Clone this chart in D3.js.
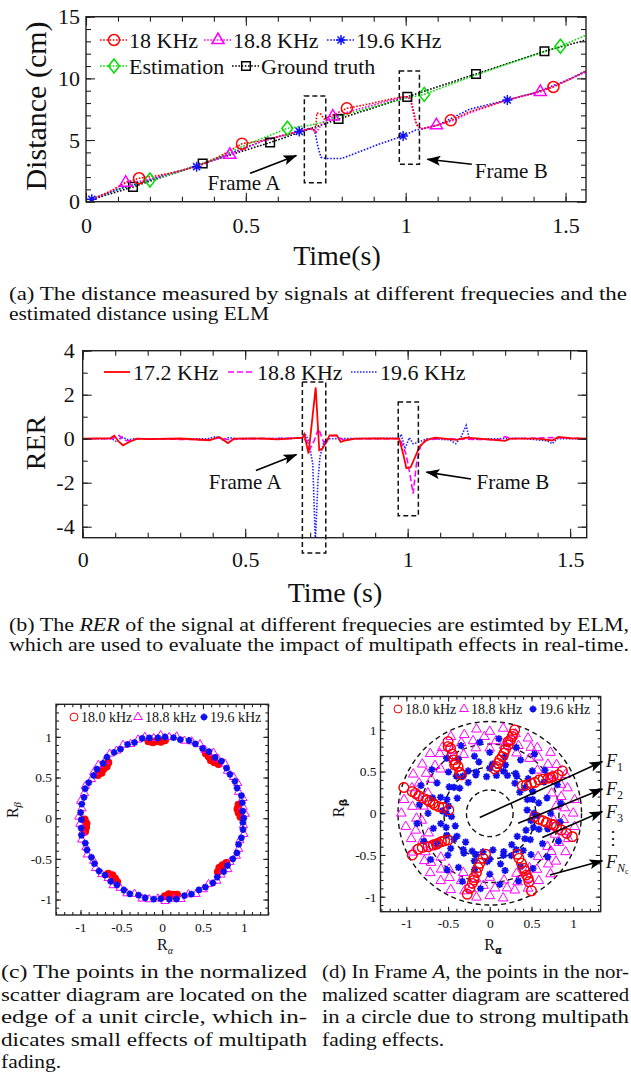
<!DOCTYPE html>
<html>
<head>
<meta charset="utf-8">
<script src="https://cdn.jsdelivr.net/npm/d3@7"></script>
<style>
body { margin: 0; background: #fff; }
</style>
</head>
<body>
<script>
// ---------- (a) distance measured at each frequency ----------
var dist18 = [[0.02,0.2],[0.08,0.9],[0.125,1.6],[0.166,1.9],[0.22,2.1],[0.28,2.4],[0.35,2.9],[0.42,3.7],[0.488,4.7],[0.55,4.95],[0.62,5.4],[0.68,5.8],[0.705,5.95],[0.718,5.7],[0.722,7.2],[0.735,7.1],[0.745,6.7],[0.77,7.0],[0.816,7.57],[0.88,7.9],[0.95,8.3],[1.0,8.55],[1.015,8.4],[1.025,7.3],[1.035,6.2],[1.05,5.9],[1.1,6.2],[1.141,6.6],[1.2,7.3],[1.25,7.7],[1.318,8.25],[1.4,8.8],[1.462,9.3],[1.52,10.0],[1.564,10.6]];
var dist188 = [[0.02,0.2],[0.09,1.0],[0.124,1.54],[0.18,1.7],[0.25,2.2],[0.35,2.9],[0.45,3.8],[0.55,4.9],[0.62,5.4],[0.68,5.8],[0.705,5.9],[0.72,5.6],[0.74,6.4],[0.772,6.9],[0.85,7.5],[0.95,8.2],[1.0,8.5],[1.015,8.3],[1.03,6.5],[1.045,5.9],[1.096,6.2],[1.15,6.6],[1.2,7.2],[1.318,8.25],[1.421,8.9],[1.5,9.8],[1.564,10.5]];
var dist196 = [[0.018,0.19],[0.1,1.0],[0.18,1.6],[0.25,2.2],[0.346,2.84],[0.45,3.9],[0.55,4.9],[0.667,5.7],[0.7,5.95],[0.715,5.8],[0.725,4.5],[0.735,3.6],[0.75,3.5],[0.8,3.5],[0.85,4.0],[0.92,4.7],[0.992,5.33],[1.03,5.8],[1.06,5.95],[1.1,6.2],[1.2,7.5],[1.318,8.25],[1.4,8.8],[1.5,9.8],[1.564,10.6]];
var distEst = [[0.02,0.25],[0.1,1.0],[0.2,1.76],[0.3,2.5],[0.4,3.4],[0.5,4.6],[0.63,5.95],[0.7,6.2],[0.75,6.5],[0.8,7.0],[0.9,7.7],[1.0,8.4],[1.058,8.7],[1.2,10.1],[1.3,11.0],[1.484,12.6],[1.564,13.5]];
var distTruth = [[0.02,0.2],[0.147,1.2],[0.365,3.1],[0.576,4.8],[0.79,6.7],[1.005,8.5],[1.22,10.36],[1.434,12.2],[1.564,13.1]];
var marks18 = [[0.166,1.9],[0.488,4.7],[0.816,7.57],[1.141,6.6],[1.462,9.3]];
var marks188 = [[0.124,1.54],[0.45,3.8],[0.772,6.9],[1.096,6.2],[1.421,8.9]];
var marks196 = [[0.018,0.19],[0.346,2.84],[0.667,5.7],[0.992,5.33],[1.318,8.25]];
var marksEst = [[0.2,1.76],[0.63,5.95],[1.058,8.7],[1.484,12.6]];
var marksTruth = [[0.147,1.2],[0.365,3.1],[0.576,4.8],[0.79,6.7],[1.005,8.5],[1.22,10.36],[1.434,12.2]];
var aTicksX = [0, 0.5, 1, 1.5];
var aTicksY = [0, 5, 10, 15];

// ---------- (b) RER ----------
var rer172 = [[0,0],[0.085,0.02],[0.097,0.14],[0.112,-0.15],[0.124,-0.3],[0.143,-0.15],[0.167,0],[0.2,-0.02],[0.3,0.01],[0.39,-0.07],[0.42,0.08],[0.447,-0.2],[0.465,0],[0.55,0.01],[0.6,-0.03],[0.676,0.05],[0.682,0.2],[0.695,-0.68],[0.717,2.33],[0.728,-0.53],[0.738,-0.45],[0.76,0.15],[0.782,0.15],[0.794,-0.15],[0.81,-0.07],[0.84,0],[0.9,0.01],[0.974,0],[0.986,-0.68],[0.996,-1.34],[1.009,-1.3],[1.021,-0.9],[1.036,-0.38],[1.055,-0.08],[1.073,0],[1.085,0.05],[1.15,-0.05],[1.18,0.05],[1.22,0],[1.3,-0.1],[1.315,0],[1.4,0],[1.445,-0.08],[1.464,0.08],[1.5,0.02],[1.551,0]];
var rer188 = [[0,0],[0.09,0],[0.112,0.15],[0.125,-0.05],[0.14,-0.1],[0.17,0],[0.39,-0.05],[0.42,0.05],[0.45,-0.05],[0.5,0],[0.676,0.02],[0.69,-0.1],[0.7,-0.45],[0.712,-0.1],[0.726,0.46],[0.735,0.1],[0.745,-0.3],[0.76,0.1],[0.78,0.15],[0.8,-0.05],[0.85,0],[0.975,0],[0.985,-0.3],[0.995,-0.7],[1.005,-1.45],[1.017,-2.5],[1.027,-1.14],[1.04,-0.3],[1.06,-0.05],[1.1,0],[1.28,-0.05],[1.3,0.1],[1.32,0],[1.45,0.05],[1.551,0]];
var rer196 = [[0,0],[0.09,0],[0.105,-0.15],[0.12,0.08],[0.14,-0.05],[0.16,0],[0.385,0],[0.41,0.1],[0.43,-0.05],[0.45,0.05],[0.47,0],[0.676,0.02],[0.684,0.23],[0.695,-0.08],[0.708,-1.14],[0.716,-4.7],[0.724,-1.9],[0.73,-0.84],[0.742,-0.15],[0.76,0],[0.975,0.02],[0.98,0.2],[0.992,-0.46],[1.005,0.05],[1.017,-0.23],[1.035,-0.15],[1.06,0],[1.13,-0.05],[1.148,-0.23],[1.165,0.1],[1.18,0.6],[1.19,0],[1.2,-0.02],[1.35,0.02],[1.43,-0.1],[1.445,-0.23],[1.46,0],[1.551,0]];
var bTicksX = [0, 0.5, 1, 1.5];
var bTicksY = [-4, -2, 0, 2, 4];

// ---------- (c) scatter, no multipath: [angle deg, radius] ----------
var cStar = [[0,1.0],[5,0.99],[11,1.0],[16,1.01],[22,0.99],[27,1.0],[33,0.99],[38,1.0],[44,1.01],[49,0.99],[55,1.0],[60,0.99],[66,1.0],[71,1.01],[77,0.99],[82,1.0],[88,1.0],[93,0.99],[99,1.0],[104,1.01],[110,0.99],[115,1.0],[121,0.99],[126,1.0],[132,1.01],[137,0.99],[143,1.0],[148,0.99],[154,1.0],[159,1.01],[165,0.99],[170,1.0],[176,1.0],[181,0.99],[187,1.0],[192,1.01],[198,0.99],[203,1.0],[209,0.99],[214,1.0],[220,1.01],[225,0.99],[231,1.0],[236,0.99],[242,1.0],[247,1.01],[253,0.99],[258,1.0],[264,1.0],[269,0.99],[275,1.0],[280,1.01],[286,0.99],[291,1.0],[297,0.99],[302,1.0],[308,1.01],[313,0.99],[319,1.0],[324,0.99],[330,1.0],[335,1.01],[341,0.99],[346,1.0],[352,1.0],[357,0.99]];
var cTri = [[3,1.02],[8,1.0],[14,1.02],[19,0.99],[25,1.02],[30,1.01],[36,0.99],[41,1.02],[47,1.0],[52,1.02],[58,0.99],[63,1.02],[69,1.01],[74,0.99],[80,1.02],[85,1.0],[91,1.02],[96,0.99],[102,1.02],[107,1.01],[113,0.99],[118,1.02],[124,1.0],[129,1.02],[135,0.99],[140,1.02],[146,1.01],[151,0.99],[157,1.02],[162,1.0],[168,1.02],[173,0.99],[179,1.02],[184,1.01],[190,0.99],[195,1.02],[201,1.0],[206,1.02],[212,0.99],[217,1.02],[223,1.01],[228,0.99],[234,1.02],[239,1.0],[245,1.02],[250,0.99],[256,1.02],[261,1.01],[267,0.99],[272,1.02],[278,1.0],[283,1.02],[289,0.99],[294,1.02],[300,1.01],[305,0.99],[311,1.02],[316,1.0],[322,1.02],[327,0.99],[333,1.02],[338,1.01],[344,0.99],[349,1.02],[355,1.0]];
var cCirc = [[88,0.96],[91,0.94],[94,0.95],[97,0.94],[100,0.96],[134,0.95],[137,0.93],[140,0.94],[143,0.93],[146,0.95],[181,0.95],[184,0.93],[187,0.94],[190,0.96],[226,0.95],[229,0.93],[232,0.94],[235,0.96],[272,0.96],[275,0.94],[278,0.95],[281,0.96],[316,0.95],[319,0.93],[322,0.94],[325,0.96],[1,0.96],[4,0.94],[7,0.93],[10,0.95],[44,0.96],[47,0.94],[50,0.93],[53,0.95],[56,0.96]];

// ---------- (d) scatter in Frame A ----------
var dTri = [[0,1.0],[9,1.03],[18,0.98],[27,1.02],[36,0.99],[45,1.03],[54,0.97],[63,1.01],[72,1.0],[81,1.03],[90,0.98],[99,1.02],[108,0.99],[117,1.03],[126,0.97],[135,1.01],[144,1.0],[153,1.03],[162,0.98],[171,1.04],[180,1.06],[189,1.02],[198,0.99],[207,1.03],[216,0.97],[225,1.01],[234,1.0],[243,1.03],[252,0.98],[261,1.02],[270,0.99],[279,1.03],[288,0.97],[297,1.01],[306,1.0],[315,1.03],[324,0.98],[333,1.02],[342,0.99],[351,1.03],
  [4,0.9],[13,0.88],[22,0.92],[31,0.87],[40,0.91],[49,0.89],[58,0.93],[67,0.88],[76,0.9],[85,0.87],[94,0.92],[103,0.89],[112,0.91],[121,0.88],[130,0.93],[139,0.87],[148,0.9],[157,0.92],[166,0.89],[175,0.93],[184,0.88],[193,0.91],[202,0.87],[211,0.9],[220,0.92],[229,0.89],[238,0.91],[247,0.88],[256,0.93],[265,0.87],[274,0.9],[283,0.92],[292,0.89],[301,0.91],[310,0.88],[319,0.93],[328,0.87],[337,0.9],[346,0.92],[355,0.89],
  [6,0.8],[18,0.78],[30,0.82],[42,0.77],[54,0.81],[66,0.79],[78,0.83],[90,0.78],[102,0.8],[114,0.77],[126,0.82],[138,0.79],[150,0.81],[162,0.78],[174,0.8],[186,0.82],[198,0.77],[210,0.81],[222,0.79],[234,0.83],[246,0.78],[258,0.8],[270,0.77],[282,0.82],[294,0.79],[306,0.81],[318,0.78],[330,0.8],[342,0.82],[354,0.77]];
var dStar = [[5,0.45],[20,0.48],[35,0.44],[50,0.47],[65,0.5],[80,0.46],[95,0.44],[110,0.49],[125,0.45],[140,0.47],[155,0.43],[170,0.5],[185,0.46],[200,0.44],[215,0.48],[230,0.45],[245,0.5],[260,0.47],[275,0.44],[290,0.49],[305,0.46],[320,0.43],[335,0.48],[350,0.5],
  [12,0.6],[27,0.58],[42,0.62],[57,0.57],[72,0.61],[87,0.59],[102,0.63],[117,0.57],[132,0.6],[147,0.58],[162,0.62],[177,0.57],[192,0.6],[207,0.58],[222,0.63],[237,0.57],[252,0.6],[267,0.58],[282,0.62],[297,0.57],[312,0.6],[327,0.58],[342,0.62],[357,0.57],
  [0,0.73],[15,0.71],[30,0.75],[45,0.72],[60,0.74],[75,0.7],[90,0.73],[105,0.71],[120,0.75],[135,0.7],[150,0.73],[165,0.71],[180,0.74],[195,0.7],[210,0.73],[225,0.71],[240,0.75],[255,0.7],[270,0.73],[285,0.71],[300,0.74],[315,0.7],[330,0.73],[345,0.72],
  [8,0.86],[23,0.88],[38,0.84],[53,0.89],[68,0.85],[83,0.9],[98,0.86],[113,0.88],[128,0.84],[143,0.87],[158,0.89],[173,0.85],[188,0.88],[203,0.86],[218,0.9],[233,0.85],[248,0.88],[263,0.91],[278,0.86],[293,0.88],[308,0.84],[323,0.87],[338,0.89],[353,0.85],
  [0,0.53],[18,0.54],[36,0.52],[54,0.55],[72,0.53],[90,0.54],[108,0.52],[126,0.55],[144,0.53],[162,0.54],[180,0.52],[198,0.55],[216,0.53],[234,0.54],[252,0.52],[270,0.55],[288,0.53],[306,0.54],[324,0.52],[342,0.55]];
// red circles as x,y
var dCirc = [[0.3,1.0],[0.27,0.92],[0.25,0.88],[0.22,0.82],[0.19,0.77],[0.17,0.72],[0.15,0.68],[0.12,0.64],[0.1,0.6],[0.08,0.56],[0.06,0.53],[0.22,0.86],[0.28,0.95],
  [-0.5,0.86],[-0.47,0.78],[-0.45,0.71],[-0.43,0.64],[-0.41,0.6],[-0.38,0.56],[-0.36,0.49],[-0.34,0.46],[-0.5,0.8],[-0.42,0.58],
  [-1.03,0.31],[-0.93,0.26],[-0.89,0.24],[-0.85,0.21],[-0.8,0.18],[-0.75,0.16],[-0.72,0.14],[-0.66,0.1],[-0.61,0.08],[-0.56,0.07],[-0.49,0.04],[-0.68,0.12],
  [-0.93,-0.5],[-0.86,-0.43],[-0.81,-0.41],[-0.74,-0.4],[-0.68,-0.38],[-0.62,-0.36],[-0.58,-0.34],[-0.54,-0.33],[-0.5,-0.32],[-0.64,-0.37],
  [-0.27,-0.97],[-0.24,-0.9],[-0.21,-0.84],[-0.19,-0.77],[-0.16,-0.71],[-0.14,-0.65],[-0.12,-0.6],[-0.08,-0.54],[-0.05,-0.49],[-0.19,-0.8],
  [0.5,-0.93],[0.47,-0.82],[0.44,-0.74],[0.41,-0.66],[0.38,-0.6],[0.35,-0.54],[0.33,-0.49],[0.46,-0.78],[0.42,-0.69],
  [0.99,-0.28],[0.92,-0.24],[0.86,-0.2],[0.8,-0.16],[0.74,-0.13],[0.68,-0.11],[0.64,-0.09],[0.59,-0.07],[0.54,-0.04],[0.77,-0.14],
  [0.87,0.51],[0.82,0.46],[0.76,0.44],[0.7,0.42],[0.64,0.41],[0.59,0.4],[0.54,0.37],[0.5,0.36],[0.44,0.34],[0.39,0.33],[0.73,0.43]];
var dRings = [0.28, 0.55, 0.83, 1.1];
var scatterTicks = [-1, -0.5, 0, 0.5, 1];

var FONT = '"Liberation Serif","Times New Roman",Times,serif';
var svg = d3.select("body").append("svg").attr("width", 631).attr("height", 1087);
var defs = svg.append("defs");
defs.append("marker").attr("id", "ah").attr("viewBox", "0 0 14 10").attr("refX", 13).attr("refY", 5)
  .attr("markerWidth", 15).attr("markerHeight", 10).attr("markerUnits", "userSpaceOnUse").attr("orient", "auto")
  .append("path").attr("d", "M0,0L14,5L0,10L3,5Z").attr("fill", "#000");

function styleAxis(sel, fs) {
  sel.select(".domain").remove();
  sel.selectAll("line").attr("stroke", "#222").attr("stroke-width", 1.1);
  sel.selectAll("text").attr("font-family", FONT).attr("font-size", fs).attr("fill", "#111");
}

// inward ticks on all four sides plus the frame
function frameAxes(x, y, o) {
  var g = svg.append("g");
  var l = x.range()[0], r = x.range()[1], b = y.range()[0], t = y.range()[1];
  function add(axis, tr, vals, len, lab, pad) {
    axis.tickValues(vals).tickSize(-len).tickPadding(pad || 0)
      .tickFormat(lab ? function(d) { return String(+d.toFixed(3)); } : function() { return ""; });
    g.append("g").attr("transform", tr).call(axis).call(styleAxis, o.fs);
  }
  add(d3.axisBottom(x), "translate(0," + b + ")", o.xMin, o.min, false);
  add(d3.axisBottom(x), "translate(0," + b + ")", o.xMaj, o.maj, true, o.padX);
  add(d3.axisTop(x), "translate(0," + t + ")", o.xMin, o.min, false);
  add(d3.axisTop(x), "translate(0," + t + ")", o.xMaj, o.maj, false);
  add(d3.axisLeft(y), "translate(" + l + ",0)", o.yMin, o.min, false);
  add(d3.axisLeft(y), "translate(" + l + ",0)", o.yMaj, o.maj, true, o.padY);
  add(d3.axisRight(y), "translate(" + r + ",0)", o.yMin, o.min, false);
  add(d3.axisRight(y), "translate(" + r + ",0)", o.yMaj, o.maj, false);
  g.append("rect").attr("x", l).attr("y", t).attr("width", r - l).attr("height", b - t)
    .attr("fill", "none").attr("stroke", "#222").attr("stroke-width", 1.4);
}

function clip(id, x, y) {
  defs.append("clipPath").attr("id", id).append("rect")
    .attr("x", x.range()[0]).attr("y", y.range()[1])
    .attr("width", x.range()[1] - x.range()[0]).attr("height", y.range()[0] - y.range()[1]);
}

function starPath(r) {
  var p = "";
  for (var k = 0; k < 4; k++) {
    var a = k * Math.PI / 4, c = Math.cos(a) * r, s = Math.sin(a) * r;
    p += "M" + (-c) + "," + (-s) + "L" + c + "," + s;
  }
  return p;
}
function triPath(r) { return "M0," + (-r) + "L" + (r * 0.87) + "," + (r * 0.5) + "L" + (-r * 0.87) + "," + (r * 0.5) + "Z"; }
function diaPath(r) { return "M0," + (-r) + "L" + (r * 0.78) + ",0L0," + r + "L" + (-r * 0.78) + ",0Z"; }
function sqPath(r) { return "M" + (-r) + "," + (-r) + "H" + r + "V" + r + "H" + (-r) + "Z"; }

function mark(g, shape, cx, cy, r, color, sw, fill) {
  if (shape === "circle") {
    return g.append("circle").attr("cx", cx).attr("cy", cy).attr("r", r)
      .attr("fill", fill || "none").attr("stroke", color).attr("stroke-width", sw);
  }
  var d = shape === "star" ? starPath(r) : shape === "tri" ? triPath(r) : shape === "dia" ? diaPath(r) : sqPath(r);
  return g.append("path").attr("d", d).attr("transform", "translate(" + cx + "," + cy + ")")
    .attr("fill", fill || "none").attr("stroke", color).attr("stroke-width", sw);
}

function txt(x, y, s, fs, anchor) {
  return svg.append("text").attr("x", x).attr("y", y).attr("font-family", FONT).attr("font-size", fs)
    .attr("fill", "#111").attr("text-anchor", anchor || "start").text(s);
}

function arrow(x1, y1, x2, y2) {
  svg.append("line").attr("x1", x1).attr("y1", y1).attr("x2", x2).attr("y2", y2)
    .attr("stroke", "#000").attr("stroke-width", 1.6).attr("marker-end", "url(#ah)");
}

function dashBox(x, y, t0, t1, v0, v1) {
  svg.append("rect").attr("x", x(t0)).attr("y", y(v1)).attr("width", x(t1) - x(t0)).attr("height", y(v0) - y(v1))
    .attr("fill", "none").attr("stroke", "#111").attr("stroke-width", 1.5).attr("stroke-dasharray", "5,3");
}

// ================= panel (a) =================
var xa = d3.scaleLinear().domain([0, 1.564]).range([86, 586]);
var ya = d3.scaleLinear().domain([0, 15]).range([201.7, 16.7]);
clip("clipA", xa, ya);
var lineA = d3.line().x(function(d) { return xa(d[0]); }).y(function(d) { return ya(d[1]); });
var seriesA = [
  { data: distTruth, marks: marksTruth, color: "#000", shape: "sq", r: 4.3 },
  { data: distEst, marks: marksEst, color: "#00dd00", shape: "dia", r: 7 },
  { data: dist196, marks: marks196, color: "#1010ff", shape: "star", r: 5 },
  { data: dist188, marks: marks188, color: "#ff00ff", shape: "tri", r: 7 },
  { data: dist18, marks: marks18, color: "#ff0000", shape: "circle", r: 5.5 }
];
var gA = svg.append("g").attr("clip-path", "url(#clipA)");
seriesA.forEach(function(s) {
  gA.append("path").datum(s.data).attr("d", lineA).attr("fill", "none")
    .attr("stroke", s.color).attr("stroke-width", 1.6).attr("stroke-dasharray", "1.6,1.6");
});
seriesA.forEach(function(s) {
  s.marks.forEach(function(m) { mark(gA, s.shape, xa(m[0]), ya(m[1]), s.r, s.color, 1.5); });
});
dashBox(xa, ya, 0.683, 0.75, 1.54, 8.57);
dashBox(xa, ya, 0.98, 1.043, 3.03, 10.6);
arrow(xa(0.513), ya(2.3), xa(0.658), ya(3.74));
arrow(xa(1.207), ya(3.03), xa(1.068), ya(3.44));
txt(xa(0.494), ya(1.49) + 7, "Frame A", 21, "middle");
txt(xa(1.33), ya(2.51) + 7, "Frame B", 21, "middle");
frameAxes(xa, ya, { xMaj: aTicksX, xMin: d3.range(0, 16).map(function(i) { return i / 10; }),
  yMaj: aTicksY, yMin: d3.range(0, 16), maj: 9, min: 5, fs: 22, padX: 16, padY: 6 });
txt(0, 0, "Distance (cm)", 30, "middle").attr("transform", "translate(46,106) rotate(-90)");
txt(337, 265, "Time(s)", 28, "middle");

var legA = [
  { x: 100, y: 40, label: "18 KHz", s: seriesA[4] },
  { x: 204, y: 40, label: "18.8 KHz", s: seriesA[3] },
  { x: 327, y: 40, label: "19.6 KHz", s: seriesA[2] },
  { x: 100, y: 66, label: "Estimation", s: seriesA[1] },
  { x: 232, y: 66, label: "Ground truth", s: seriesA[0] }
];
legA.forEach(function(e) {
  svg.append("line").attr("x1", e.x).attr("x2", e.x + 27).attr("y1", e.y).attr("y2", e.y)
    .attr("stroke", e.s.color).attr("stroke-width", 1.6).attr("stroke-dasharray", "1.6,1.6");
  mark(svg, e.s.shape, e.x + 14, e.y, e.s.r, e.s.color, 1.5);
  txt(e.x + 29, e.y + 8, e.label, 22);
});

// ================= panel (b) =================
var xb = d3.scaleLinear().domain([0, 1.551]).range([82.7, 586.7]);
var yb = d3.scaleLinear().domain([-4.5, 4]).range([537.7, 350.7]);
clip("clipB", xb, yb);
var lineB = d3.line().x(function(d) { return xb(d[0]); }).y(function(d) { return yb(d[1]); });
var seriesB = [
  { data: rer196, color: "#2020ff", dash: "1.5,1.5", w: 1.6, label: "19.6 KHz", lx: 351 },
  { data: rer188, color: "#ff00ff", dash: "6,3", w: 1.6, label: "18.8 KHz", lx: 228 },
  { data: rer172, color: "#ff0000", dash: null, w: 1.8, label: "17.2 KHz", lx: 104 }
];
var gB = svg.append("g").attr("clip-path", "url(#clipB)");
seriesB.forEach(function(s) {
  gB.append("path").datum(s.data).attr("d", lineB).attr("fill", "none")
    .attr("stroke", s.color).attr("stroke-width", s.w).attr("stroke-dasharray", s.dash);
  svg.append("line").attr("x1", s.lx).attr("x2", s.lx + 26).attr("y1", 372).attr("y2", 372)
    .attr("stroke", s.color).attr("stroke-width", s.w).attr("stroke-dasharray", s.dash);
  txt(s.lx + 29, 380, s.label, 22);
});
dashBox(xb, yb, 0.676, 0.748, -5.2, 2.58);
dashBox(xb, yb, 0.971, 1.033, -3.5, 1.67);
arrow(xb(0.533), yb(-1.45), xb(0.658), yb(-0.72));
arrow(xb(1.195), yb(-1.83), xb(1.058), yb(-1.52));
txt(xb(0.5), yb(-1.98) + 7, "Frame A", 21, "middle");
txt(xb(1.324), yb(-1.98) + 7, "Frame B", 21, "middle");
frameAxes(xb, yb, { xMaj: bTicksX, xMin: d3.range(0, 16).map(function(i) { return i / 10; }),
  yMaj: bTicksY, yMin: d3.range(-4, 5), maj: 9, min: 5, fs: 22, padX: 14, padY: 8 });
txt(0, 0, "RER", 28, "middle").attr("transform", "translate(45,443) rotate(-90)");
txt(335, 602, "Time (s)", 28, "middle");

// ================= panels (c), (d) =================
function polar(p) { var a = p[0] * Math.PI / 180; return [p[1] * Math.cos(a), p[1] * Math.sin(a)]; }
var scatMinor = d3.range(-13, 14).map(function(i) { return i / 10; });
var scatMinorY = d3.range(-11, 15).map(function(i) { return i / 10; });

function scatterPanel(x, y, o) {
  var id = "clip" + o.tag;
  clip(id, x, y);
  var g = svg.append("g").attr("clip-path", "url(#" + id + ")");
  if (o.rings) {
    o.rings.forEach(function(r) {
      g.append("ellipse").attr("cx", x(0)).attr("cy", y(0)).attr("rx", x(r) - x(0)).attr("ry", y(0) - y(r))
        .attr("fill", "none").attr("stroke", "#111").attr("stroke-width", 1.4).attr("stroke-dasharray", "5,3.5");
    });
  }
  o.circ.forEach(function(p) { mark(g, "circle", x(p[0]), y(p[1]), o.cr, "#ff0000", 1.1, o.cfill); });
  o.tri.map(polar).forEach(function(p) { mark(g, "tri", x(p[0]), y(p[1]), o.tr, "#ff00ff", 1); });
  o.star.map(polar).forEach(function(p) { mark(g, "star", x(p[0]), y(p[1]), o.sr, "#1010ee", o.sw); });
  if (o.circTop) o.circ.forEach(function(p) { mark(g, "circle", x(p[0]), y(p[1]), o.cr, "#ff0000", 1.1); });
  frameAxes(x, y, { xMaj: scatterTicks, xMin: scatMinor, yMaj: scatterTicks, yMin: scatMinorY,
    maj: 5, min: 3, fs: 13.5, padX: 7, padY: 4 });
  // legend
  var ly = o.ly, lx = o.lx;
  mark(svg, "circle", lx[0], ly, 4, "#ff0000", 1);
  txt(lx[0] + 7, ly + 5, "18.0 kHz", 14);
  mark(svg, "tri", lx[1], ly, 5, "#ff00ff", 1);
  txt(lx[1] + 7, ly + 5, "18.8 kHz", 14);
  mark(svg, "star", lx[2], ly, 3.5, "#1010ee", 1.8);
  txt(lx[2] + 6, ly + 5, "19.6 kHz", 14);
}

var xc = d3.scaleLinear().domain([-1.3, 1.3]).range([56, 268.3]);
var yc = d3.scaleLinear().domain([-1.19, 1.4]).range([915, 704.3]);
scatterPanel(xc, yc, { tag: "C", circ: cCirc.map(polar), tri: cTri, star: cStar, cr: 3.5, cfill: "#ff0000",
  tr: 4.8, sr: 3.4, sw: 2.0, ly: 717, lx: [74, 138, 204] });
var rb = svg.append("text").attr("font-family", FONT).attr("font-size", 16).attr("fill", "#111")
  .attr("text-anchor", "middle").attr("transform", "translate(18,810) rotate(-90)");
rb.append("tspan").text("R");
rb.append("tspan").text("\u03b2").attr("font-size", 11).attr("font-style", "italic").attr("dy", 3);
var ra = svg.append("text").attr("font-family", FONT).attr("font-size", 16).attr("fill", "#111")
  .attr("text-anchor", "middle").attr("x", 165).attr("y", 950);
ra.append("tspan").text("R");
ra.append("tspan").text("\u03b1").attr("font-size", 10).attr("font-style", "italic").attr("dy", 4);

var xd = d3.scaleLinear().domain([-1.31, 1.33]).range([380.5, 600.7]);
var yd = d3.scaleLinear().domain([-1.18, 1.4]).range([911.7, 696.5]);
scatterPanel(xd, yd, { tag: "D", rings: dRings, circ: dCirc, tri: dTri, star: dStar, cr: 4.8, cfill: null,
  circTop: true, tr: 5.6, sr: 3.6, sw: 1.8, ly: 709, lx: [398, 464, 533] });
var rb2 = svg.append("text").attr("font-family", FONT).attr("font-size", 16).attr("fill", "#111")
  .attr("text-anchor", "middle").attr("transform", "translate(344,808) rotate(-90)");
rb2.append("tspan").text("R");
rb2.append("tspan").text("\u03b2").attr("font-size", 11).attr("font-weight", "bold").attr("font-family", "DejaVu Sans").attr("dy", 3);
var ra2 = svg.append("text").attr("font-family", FONT).attr("font-size", 16).attr("fill", "#111")
  .attr("text-anchor", "middle").attr("x", 493).attr("y", 950);
ra2.append("tspan").text("R");
ra2.append("tspan").text("\u03b1").attr("font-size", 10).attr("font-weight", "bold").attr("font-family", "DejaVu Sans").attr("dy", 4);

// F labels and arrows in (d)
var fArrows = [[-0.12, -0.05, 1.35, 0.62], [0.34, -0.12, 1.35, 0.29], [0.63, -0.29, 1.35, 0.02], [0.72, -0.74, 1.35, -0.57]];
fArrows.forEach(function(a) { arrow(xd(a[0]), yd(a[1]), xd(a[2]), yd(a[3])); });
var fLabels = [["1", 0.63], ["2", 0.29], ["3", 0.01], ["N", -0.58]];
fLabels.forEach(function(f) {
  var t = svg.append("text").attr("x", 606).attr("y", yd(f[1]) + 6).attr("font-family", FONT)
    .attr("font-size", 18).attr("fill", "#111");
  t.append("tspan").text("F").attr("font-style", "italic");
  var sub = t.append("tspan").text(f[0]).attr("font-size", 12).attr("dy", 4);
  if (f[0] === "N") { sub.attr("font-style", "italic"); t.append("tspan").text("c").attr("font-size", 8).attr("dy", 2); }
});
txt(613, yd(-0.28) + 7, "\u22ee", 18, "middle");

// ================= captions =================
function caption(lines, x0, y0, lh, width) {
  lines.forEach(function(ln, i) {
    var t = svg.append("text").attr("x", x0).attr("y", y0 + i * lh)
      .attr("font-family", FONT).attr("font-size", 18).attr("fill", "#111");
    ln.s.split("*").forEach(function(part, k) {
      if (part) t.append("tspan").text(part).attr("font-style", k % 2 ? "italic" : null);
    });
    var nat = t.node().getComputedTextLength();
    t.attr("textLength", ln.j ? width : Math.min(nat * 1.19, width)).attr("lengthAdjust", "spacingAndGlyphs");
  });
}
caption([{ s: "(a) The distance measured by signals at different frequecies and the", j: true },
  { s: "estimated distance using ELM", j: false }], 9, 300, 20, 618);
caption([{ s: "(b) The *RER* of the signal at different frequecies are estimted by ELM,", j: true },
  { s: "which are used to evaluate the impact of multipath effects in real-time.", j: true }], 9, 631, 20, 620);
caption([{ s: "(c) The points in the normalized", j: true },
  { s: "scatter diagram are located on the", j: true },
  { s: "edge of a unit circle, which in-", j: true },
  { s: "dicates small effects of multipath", j: true },
  { s: "fading.", j: false }], 1, 978, 22.5, 306);
caption([{ s: "(d) In Frame *A*, the points in the nor-", j: true },
  { s: "malized scatter diagram are scattered", j: true },
  { s: "in a circle due to strong multipath", j: true },
  { s: "fading effects.", j: false }], 322, 978, 22.5, 307);
</script>
</body>
</html>
